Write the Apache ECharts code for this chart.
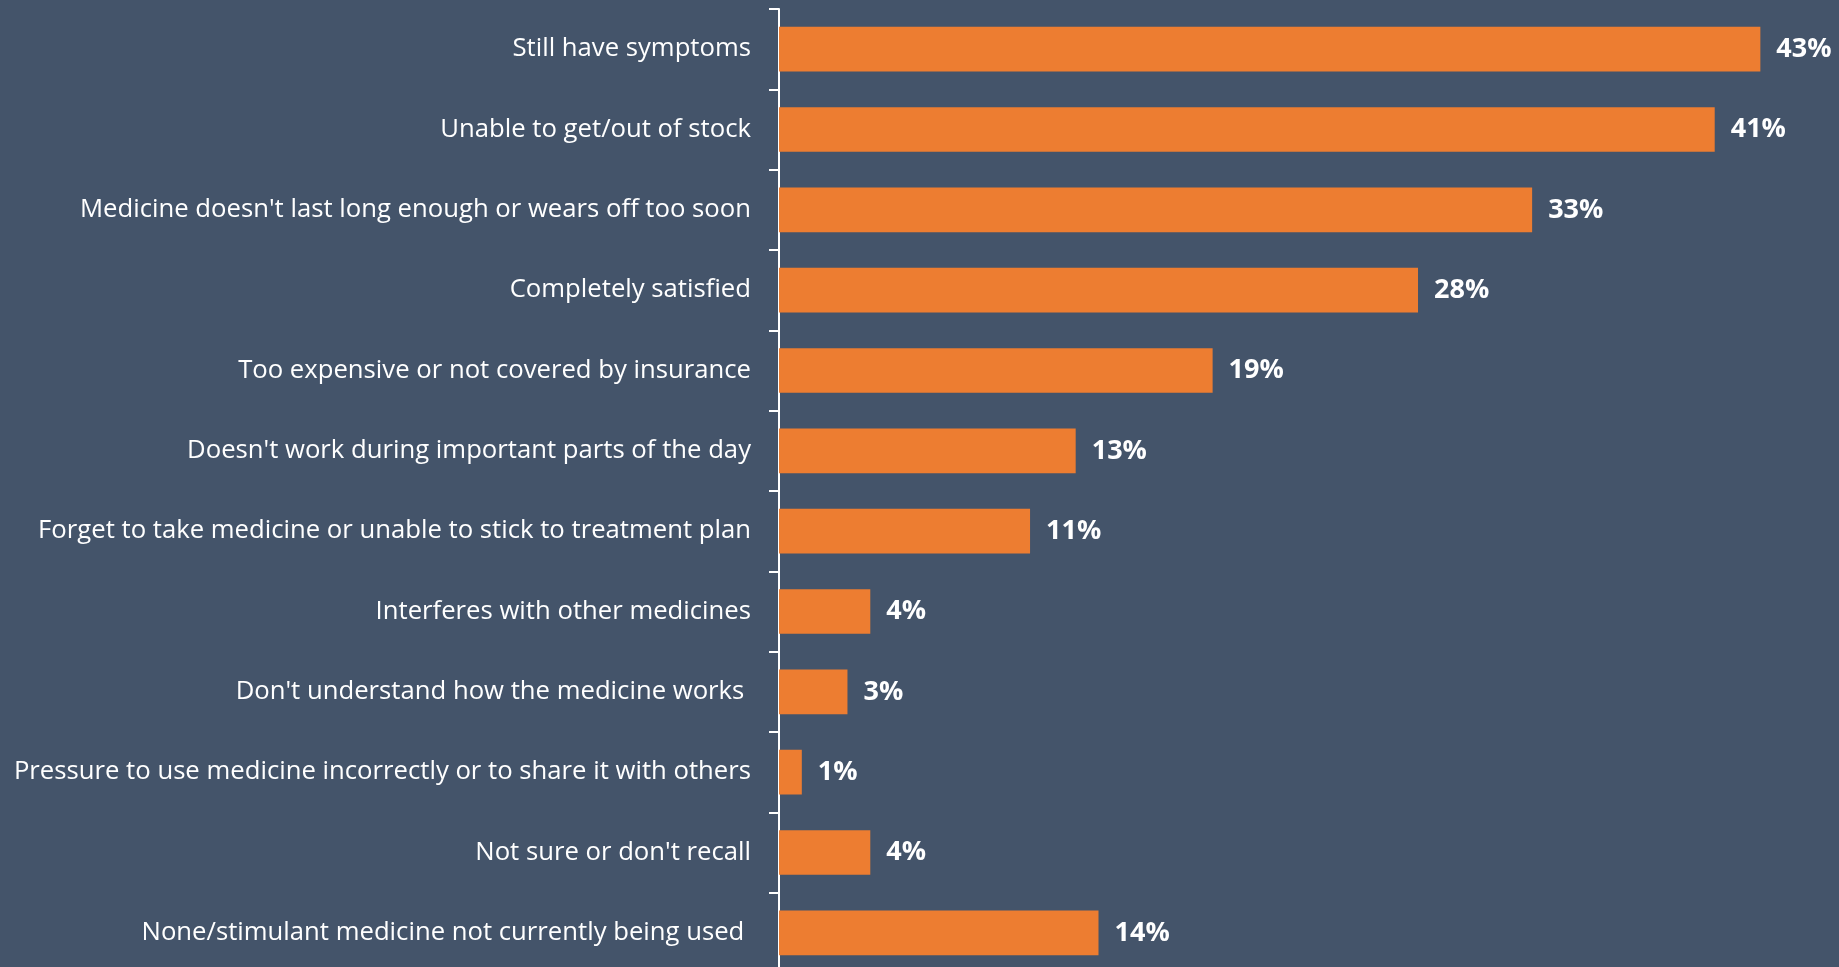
<!DOCTYPE html>
<html>
<head>
<meta charset="utf-8">
<script src="https://cdn.jsdelivr.net/npm/echarts@6/dist/echarts.min.js"></script>
<style>
  html, body { margin: 0; padding: 0; background: #44546A; }
  #chart { width: 1839px; height: 967px; }
</style>
</head>
<body>
<div id="chart"></div>
<script>
// Reasons given for the current medicine, share of respondents (%)
const categories = [
  "Still have symptoms",
  "Unable to get/out of stock",
  "Medicine doesn't last long enough or wears off too soon",
  "Completely satisfied",
  "Too expensive or not covered by insurance",
  "Doesn't work during important parts of the day",
  "Forget to take medicine or unable to stick to treatment plan",
  "Interferes with other medicines",
  "Don't understand how the medicine works ",
  "Pressure to use medicine incorrectly or to share it with others",
  "Not sure or don't recall",
  "None/stimulant medicine not currently being used "
];
const values = [43, 41, 33, 28, 19, 13, 11, 4, 3, 1, 4, 14];

const chart = echarts.init(document.getElementById('chart'));
chart.setOption({
  backgroundColor: '#44546A',
  animation: false,
  grid: {
    left: 779, width: 1027, top: 9, height: 964,
    containLabel: false,
    outerBoundsMode: 'none'
  },
  xAxis: {
    type: 'value',
    min: 0,
    max: 45,
    show: false
  },
  yAxis: {
    type: 'category',
    inverse: true,
    data: categories,
    axisLine: { show: true, lineStyle: { color: '#FFFFFF', width: 2 } },
    axisTick: { show: true, length: 10, lineStyle: { color: '#FFFFFF', width: 2 } },
    axisLabel: {
      color: '#FFFFFF',
      fontFamily: 'Open Sans',
      fontSize: 25.7,
      margin: 28
    },
    splitLine: { show: false }
  },
  series: [{
    type: 'bar',
    data: values,
    barCategoryGap: '44.4%',
    itemStyle: { color: '#ED7D31' },
    label: {
      show: true,
      position: 'right',
      distance: 16,
      color: '#FFFFFF',
      fontFamily: 'Open Sans',
      fontWeight: 'bold',
      fontSize: 27,
      formatter: '{c}%'
    }
  }]
});
</script>
</body>
</html>
